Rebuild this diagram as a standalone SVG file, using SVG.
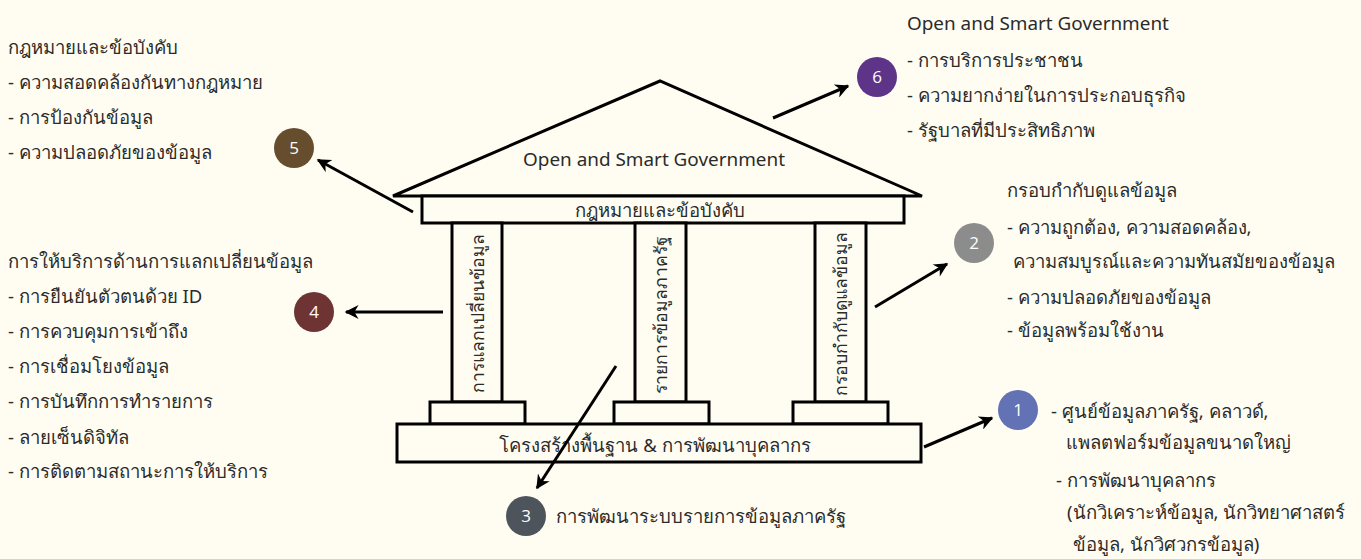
<svg xmlns="http://www.w3.org/2000/svg" width="1361" height="559" viewBox="0 0 1361 559">
<defs>
<marker id="ah" viewBox="0 0 10 10" refX="9" refY="5" markerWidth="16" markerHeight="14" markerUnits="userSpaceOnUse" orient="auto">
<path d="M0,0 L10,5 L0,10 L3,5 z" fill="#000"/>
</marker>
<style>
.bg{fill:#fffdf2}
.sh{fill:#fffdf2;stroke:#000;stroke-width:3}
.t{font-family:"Noto Sans","DejaVu Sans",sans-serif;font-size:18.5px;fill:#2b2b2b}
.e{font-size:18.9px}
.p{font-size:17.6px}
.c{text-anchor:middle}
.num{font-family:"Open Sans","Noto Sans",sans-serif;font-size:17px;fill:#fff;text-anchor:middle}
.ar{stroke:#000;stroke-width:3;fill:none;marker-end:url(#ah)}
</style>
</defs>
<rect class="bg" x="0" y="0" width="1361" height="559"/>

<g id="building">
<g id="roof">
<polygon class="sh" points="393,196 660,81 922,196"/>
<text class="t e c" x="654" y="166">Open and Smart Government</text>
</g>
<g id="beam">
<rect class="sh" x="422" y="196" width="482" height="27"/>
<text class="t c" x="660" y="217">กฎหมายและข้อบังคับ</text>
</g>
<g id="pillar-left">
<rect class="sh" x="452" y="223" width="50" height="179"/>
<rect class="sh" x="430" y="402" width="95" height="22"/>
<text class="t p c" transform="translate(484,313) rotate(-90)">การแลกเปลี่ยนข้อมูล</text>
</g>
<g id="pillar-middle">
<rect class="sh" x="635" y="223" width="51" height="179"/>
<rect class="sh" x="614" y="402" width="95" height="22"/>
<text class="t p c" transform="translate(667,315) rotate(-90)">รายการข้อมูลภาครัฐ</text>
</g>
<g id="pillar-right">
<rect class="sh" x="815" y="223" width="51" height="179"/>
<rect class="sh" x="793" y="402" width="95" height="22"/>
<text class="t p c" transform="translate(847,314) rotate(-90)">กรอบกำกับดูแลข้อมูล</text>
</g>
<g id="foundation">
<rect class="sh" x="397" y="424" width="524" height="38"/>
<text class="t c" x="655" y="452">โครงสร้างพื้นฐาน &amp; การพัฒนาบุคลากร</text>
</g>
</g>

<g id="connectors">
<line class="ar" x1="413" y1="212" x2="318" y2="160"/>
<line class="ar" x1="773" y1="118" x2="848" y2="86"/>
<line class="ar" x1="875" y1="307" x2="947" y2="264"/>
<line class="ar" x1="443" y1="312" x2="346" y2="312"/>
<line class="ar" x1="924" y1="447" x2="992" y2="418"/>
<line class="ar" x1="616" y1="366" x2="537" y2="488"/>
</g>

<g id="n1">
<circle cx="1018" cy="410" r="20" fill="#6272b4"/>
<text class="num" x="1018" y="416">1</text>
<text class="t" x="1051" y="418">- ศูนย์ข้อมูลภาครัฐ, คลาวด์,</text>
<text class="t" x="1066" y="449">แพลตฟอร์มข้อมูลขนาดใหญ่</text>
<text class="t" x="1056" y="487">- การพัฒนาบุคลากร</text>
<text class="t" x="1067" y="519">(นักวิเคราะห์ข้อมูล, นักวิทยาศาสตร์</text>
<text class="t" x="1073" y="551">ข้อมูล, นักวิศวกรข้อมูล)</text>
</g>

<g id="n2">
<circle cx="974" cy="243" r="20" fill="#8c8c8c"/>
<text class="num" x="974" y="249">2</text>
<text class="t" x="1007" y="197">กรอบกำกับดูแลข้อมูล</text>
<text class="t" x="1007" y="234">- ความถูกต้อง, ความสอดคล้อง,</text>
<text class="t" x="1013" y="268">ความสมบูรณ์และความทันสมัยของข้อมูล</text>
<text class="t" x="1007" y="304">- ความปลอดภัยของข้อมูล</text>
<text class="t" x="1007" y="337">- ข้อมูลพร้อมใช้งาน</text>
</g>

<g id="n3">
<circle cx="526" cy="516" r="20" fill="#4d545b"/>
<text class="num" x="526" y="522">3</text>
<text class="t" x="556" y="523">การพัฒนาระบบรายการข้อมูลภาครัฐ</text>
</g>

<g id="n4">
<circle cx="314" cy="312" r="20" fill="#6e3433"/>
<text class="num" x="314" y="318">4</text>
<text class="t" x="8" y="268">การให้บริการด้านการแลกเปลี่ยนข้อมูล</text>
<text class="t" x="8" y="303">- การยืนยันตัวตนด้วย ID</text>
<text class="t" x="8" y="338">- การควบคุมการเข้าถึง</text>
<text class="t" x="8" y="373">- การเชื่อมโยงข้อมูล</text>
<text class="t" x="8" y="408">- การบันทึกการทำรายการ</text>
<text class="t" x="8" y="444">- ลายเซ็นดิจิทัล</text>
<text class="t" x="8" y="478">- การติดตามสถานะการให้บริการ</text>
</g>

<g id="n5">
<circle cx="294" cy="148" r="20" fill="#664d2e"/>
<text class="num" x="294" y="154">5</text>
<text class="t" x="8" y="54">กฎหมายและข้อบังคับ</text>
<text class="t" x="8" y="89">- ความสอดคล้องกันทางกฎหมาย</text>
<text class="t" x="8" y="124">- การป้องกันข้อมูล</text>
<text class="t" x="8" y="159">- ความปลอดภัยของข้อมูล</text>
</g>

<g id="n6">
<circle cx="877" cy="77" r="20" fill="#5e3489"/>
<text class="num" x="877" y="83">6</text>
<text class="t e" x="907" y="30">Open and Smart Government</text>
<text class="t" x="907" y="67">- การบริการประชาชน</text>
<text class="t" x="907" y="102">- ความยากง่ายในการประกอบธุรกิจ</text>
<text class="t" x="907" y="137">- รัฐบาลที่มีประสิทธิภาพ</text>
</g>
</svg>
